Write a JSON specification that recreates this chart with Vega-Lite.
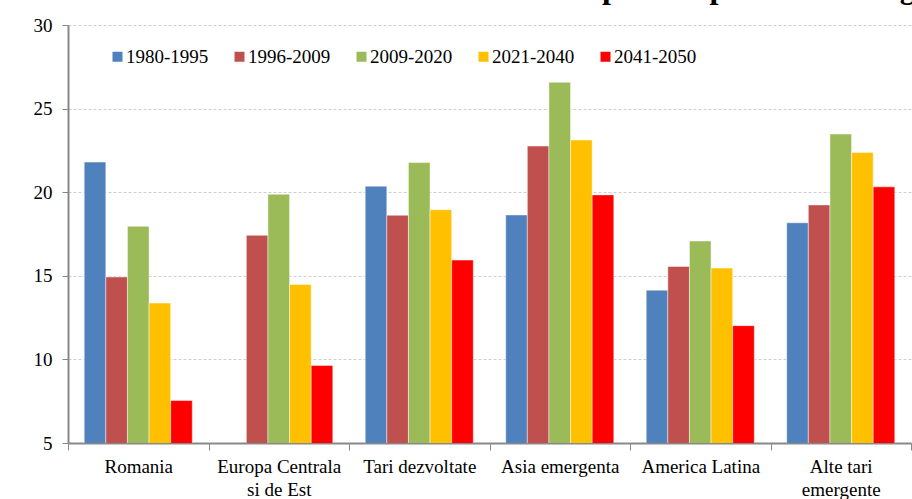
{
  "$schema": "https://vega.github.io/schema/vega-lite/v6.json",
  "width": 843,
  "height": 418,
  "autosize": {"type": "none"},
  "padding": {"left": 68, "top": 25, "right": 1, "bottom": 56},
  "background": "white",
  "title": {
    "text": "Graficul 4. Evolutia ratei de economisire privata pe termen lung",
    "anchor": "start",
    "frame": "group",
    "font": "Liberation Serif",
    "fontSize": 32,
    "fontWeight": "bold",
    "color": "black",
    "baseline": "alphabetic",
    "offset": 5,
    "dy": 19,
    "dx": -28
  },
  "config": {
    "view": {"stroke": null},
    "font": "Liberation Serif"
  },
  "data": {
    "values": [
      {"regiune": "Romania", "perioada": "1980-1995", "valoare": 21.8},
      {"regiune": "Romania", "perioada": "1996-2009", "valoare": 14.93},
      {"regiune": "Romania", "perioada": "2009-2020", "valoare": 17.96},
      {"regiune": "Romania", "perioada": "2021-2040", "valoare": 13.37},
      {"regiune": "Romania", "perioada": "2041-2050", "valoare": 7.54},
      {"regiune": "Europa Centrala|si de Est", "perioada": "1996-2009", "valoare": 17.42},
      {"regiune": "Europa Centrala|si de Est", "perioada": "2009-2020", "valoare": 19.88},
      {"regiune": "Europa Centrala|si de Est", "perioada": "2021-2040", "valoare": 14.48},
      {"regiune": "Europa Centrala|si de Est", "perioada": "2041-2050", "valoare": 9.64},
      {"regiune": "Tari dezvoltate", "perioada": "1980-1995", "valoare": 20.36},
      {"regiune": "Tari dezvoltate", "perioada": "1996-2009", "valoare": 18.62},
      {"regiune": "Tari dezvoltate", "perioada": "2009-2020", "valoare": 21.77},
      {"regiune": "Tari dezvoltate", "perioada": "2021-2040", "valoare": 18.95},
      {"regiune": "Tari dezvoltate", "perioada": "2041-2050", "valoare": 15.94},
      {"regiune": "Asia emergenta", "perioada": "1980-1995", "valoare": 18.64},
      {"regiune": "Asia emergenta", "perioada": "1996-2009", "valoare": 22.76},
      {"regiune": "Asia emergenta", "perioada": "2009-2020", "valoare": 26.57},
      {"regiune": "Asia emergenta", "perioada": "2021-2040", "valoare": 23.12},
      {"regiune": "Asia emergenta", "perioada": "2041-2050", "valoare": 19.84},
      {"regiune": "America Latina", "perioada": "1980-1995", "valoare": 14.14},
      {"regiune": "America Latina", "perioada": "1996-2009", "valoare": 15.56},
      {"regiune": "America Latina", "perioada": "2009-2020", "valoare": 17.08},
      {"regiune": "America Latina", "perioada": "2021-2040", "valoare": 15.46},
      {"regiune": "America Latina", "perioada": "2041-2050", "valoare": 12.02},
      {"regiune": "Alte tari|emergente", "perioada": "1980-1995", "valoare": 18.17},
      {"regiune": "Alte tari|emergente", "perioada": "1996-2009", "valoare": 19.24},
      {"regiune": "Alte tari|emergente", "perioada": "2009-2020", "valoare": 23.48},
      {"regiune": "Alte tari|emergente", "perioada": "2021-2040", "valoare": 22.37},
      {"regiune": "Alte tari|emergente", "perioada": "2041-2050", "valoare": 20.32}
    ]
  },
  "mark": {"type": "bar", "clip": true, "stroke": "white", "strokeOpacity": 0.45, "strokeWidth": 1},
  "encoding": {
    "x": {
      "field": "regiune",
      "type": "nominal",
      "sort": null,
      "scale": {"paddingInner": 0, "paddingOuter": 0},
      "axis": {
        "title": null,
        "labelAngle": 0,
        "labelExpr": "split(datum.label, '|')",
        "labelFont": "Liberation Serif",
        "labelFontSize": 19,
        "labelColor": "black",
        "labelLineHeight": 23,
        "labelPadding": 7,
        "labelOverlap": false,
        "labelBound": false,
        "tickBand": "extent",
        "tickSize": 7,
        "tickColor": "#888888",
        "domainColor": "#888888",
        "domainWidth": 2,
        "grid": false
      }
    },
    "xOffset": {
      "field": "perioada",
      "type": "nominal",
      "scale": {"paddingInner": 0, "paddingOuter": 0.75}
    },
    "y": {
      "field": "valoare",
      "type": "quantitative",
      "scale": {"domain": [5, 30], "zero": false},
      "axis": {
        "title": null,
        "values": [5, 10, 15, 20, 25, 30],
        "labelFont": "Liberation Serif",
        "labelFontSize": 19,
        "labelColor": "black",
        "labelPadding": 10,
        "tickSize": 6,
        "tickColor": "#888888",
        "domainColor": "#888888",
        "domainWidth": 2,
        "gridColor": "#cfcfcf",
        "gridDash": [3, 2]
      }
    },
    "color": {
      "field": "perioada",
      "type": "nominal",
      "scale": {
        "domain": ["1980-1995", "1996-2009", "2009-2020", "2021-2040", "2041-2050"],
        "range": ["#4F81BD", "#C0504D", "#9BBB59", "#FFC000", "#FF0000"]
      },
      "legend": {
        "title": null,
        "orient": "none",
        "direction": "horizontal",
        "columns": 5,
        "legendX": 40,
        "legendY": 22,
        "padding": 0,
        "symbolType": "square",
        "symbolSize": 100,
        "symbolStrokeWidth": 0,
        "symbolOpacity": 1,
        "labelFont": "Liberation Serif",
        "labelFontSize": 19,
        "labelColor": "black",
        "labelOffset": -1,
        "columnPadding": 21
      }
    }
  }
}
